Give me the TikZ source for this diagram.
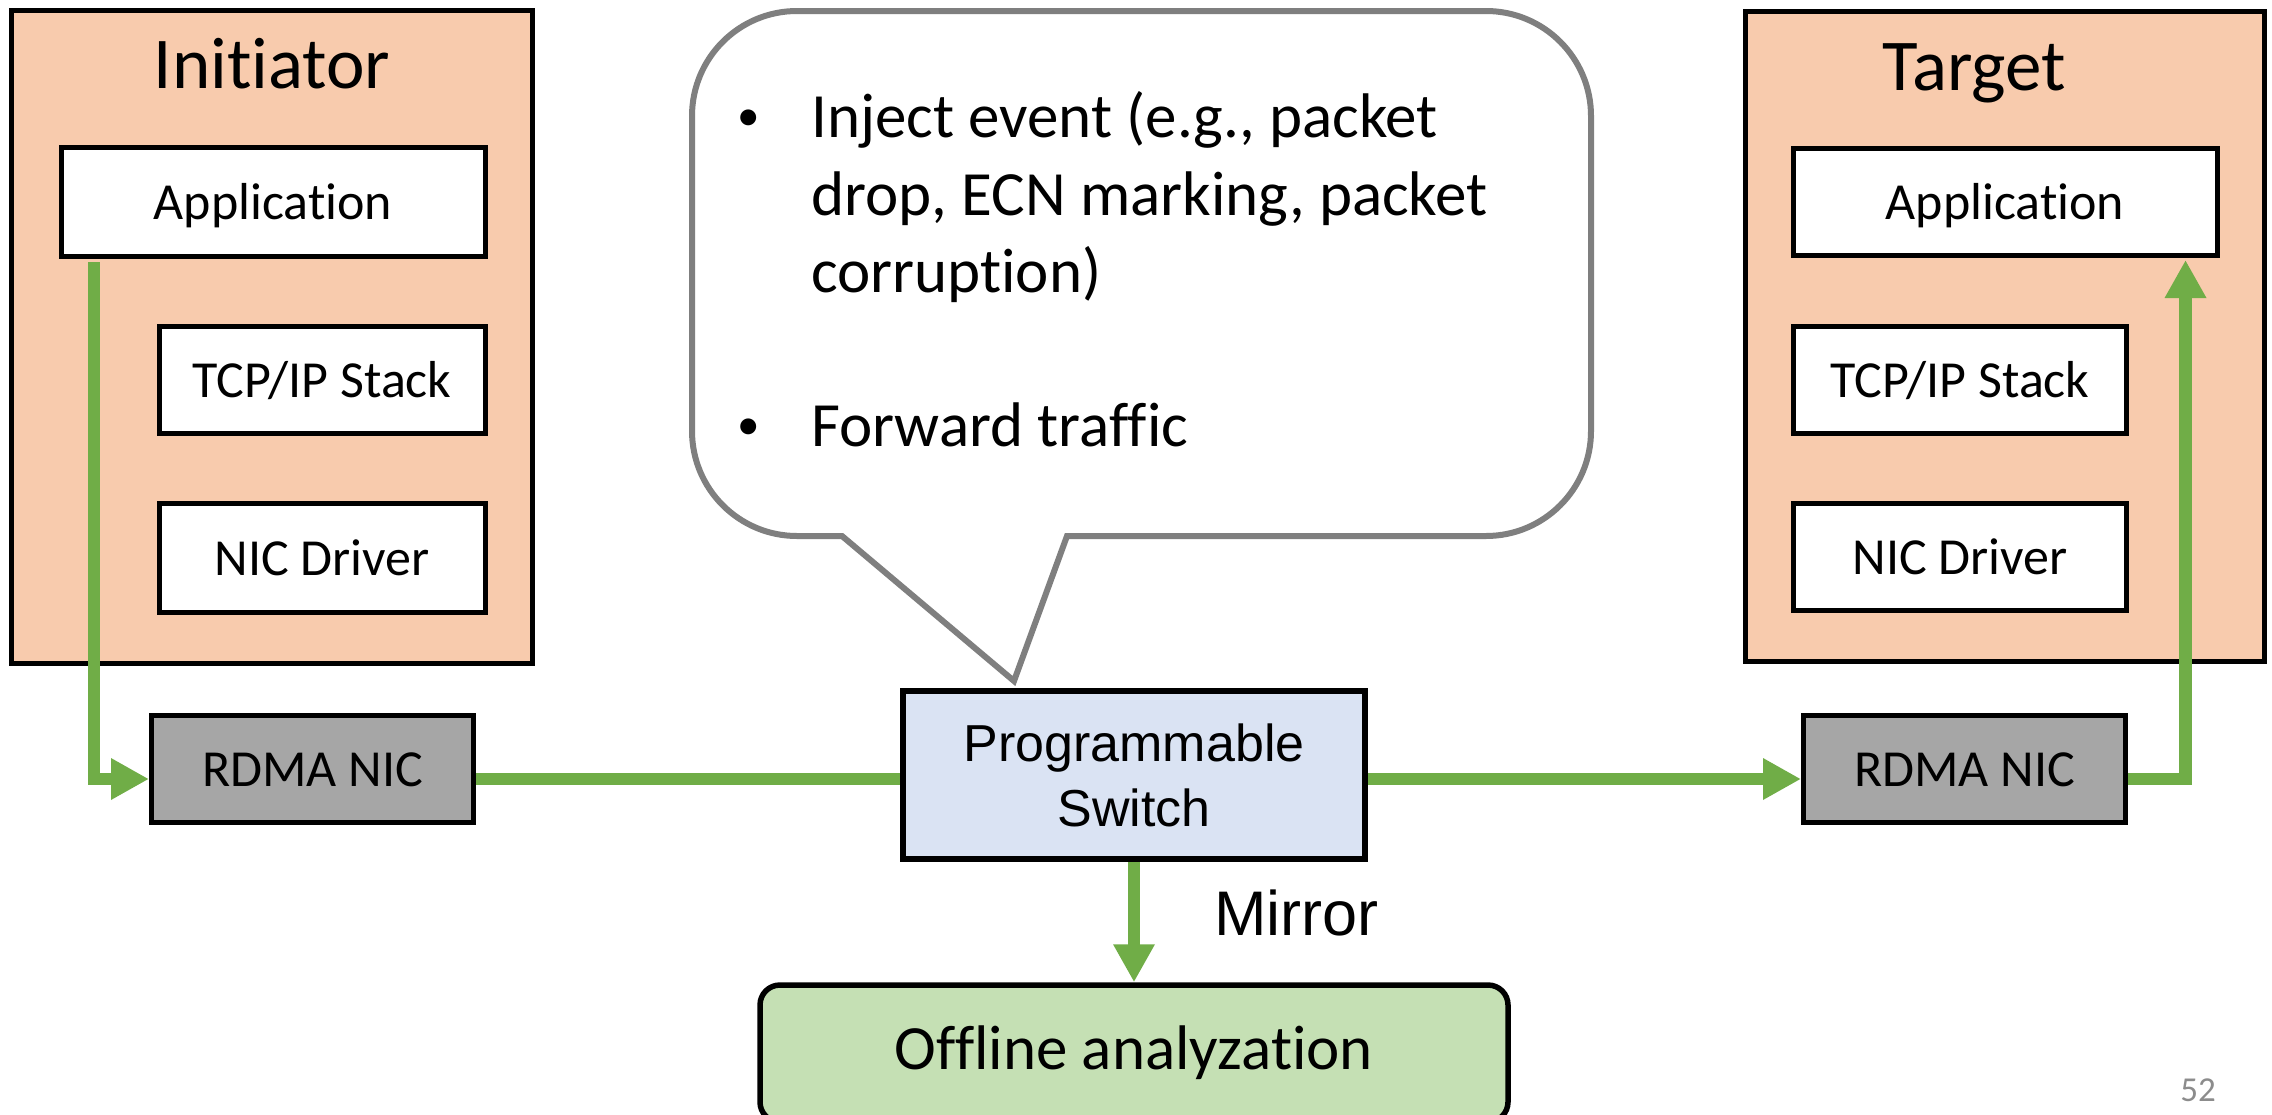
\documentclass[tikz,border=0pt]{standalone}
\usepackage{fontspec}
\setmainfont{Carlito}[Ligatures=NoCommon]
\newfontfamily\helv{Liberation Sans}
\usetikzlibrary{arrows.meta,calc}

\definecolor{hostfill}{HTML}{F8CBAD}
\definecolor{nicfill}{HTML}{A6A6A6}
\definecolor{switchfill}{HTML}{DAE3F3}
\definecolor{flowgreen}{HTML}{70AD47}
\definecolor{offfill}{HTML}{C5E0B4}
\definecolor{bubbleline}{HTML}{7F7F7F}
\definecolor{pagenum}{HTML}{8C8C8C}

\begin{document}
\begin{tikzpicture}[x=1pt,y=-1pt,
  host/.style={draw=black,line width=5pt,fill=hostfill,inner sep=0pt},
  hosttitle/.style={anchor=base,inner sep=0pt,font=\fontsize{73}{88}\selectfont},
  layerbox/.style={draw=black,line width=5pt,fill=white,inner sep=0pt,
    font=\fontsize{52}{62}\selectfont,text height=36pt,text depth=2pt},
  nicbox/.style={layerbox,fill=nicfill},
  switchbox/.style={draw=black,line width=6pt,fill=switchfill,inner sep=0pt,
    align=center,font=\helv\fontsize{52}{65}\selectfont},
  offbox/.style={draw=black,line width=5.5pt,fill=offfill,rounded corners=20pt,
    inner sep=0pt,font=\fontsize{63}{75}\selectfont,text height=45pt,text depth=14pt},
  bubble/.style={draw=bubbleline,line width=6pt,fill=white,line join=miter},
  bubbletext/.style={anchor=base west,inner sep=0pt,font=\fontsize{63}{76}\selectfont},
  bulletmark/.style={anchor=center,inner sep=0pt,font=\fontsize{45}{54}\selectfont},
  flow/.style={draw=flowgreen,line width=12.5pt},
  flowarrow/.style={flow,-{Triangle[width=39pt,length=38pt]}}
]
\useasboundingbox (0,0) rectangle (2272,1114);

% ---- Initiator host ----
\node[host,minimum width=521pt,minimum height=653pt] (init) at (272,337) {};
\node[hosttitle] (initT) at (272,88) {Initiator};
\node[layerbox,minimum width=424pt,minimum height=109pt] (app1) at (273,202) {Application};
\node[layerbox,minimum width=326pt,minimum height=107pt] (tcp1) at (322,380) {TCP/IP Stack};
\node[layerbox,minimum width=326pt,minimum height=109pt] (drv1) at (322,558) {NIC Driver};

% ---- Target host ----
\node[host,minimum width=519pt,minimum height=650pt] (targ) at (2005,336) {};
\node[hosttitle] (targT) at (1974,90) {Target};
\node[layerbox,minimum width=424pt,minimum height=107pt] (app2) at (2005,202) {Application};
\node[layerbox,minimum width=333pt,minimum height=107pt] (tcp2) at (1960,380) {TCP/IP Stack};
\node[layerbox,minimum width=333pt,minimum height=107pt] (drv2) at (1960,557) {NIC Driver};

% ---- NICs, switch and analysis box ----
\node[nicbox,minimum width=322pt,minimum height=107pt] (nicL) at (312.5,769) {RDMA NIC};
\node[nicbox,minimum width=322pt,minimum height=107pt] (nicR) at (1964.5,769) {RDMA NIC};
\node[switchbox,minimum width=462pt,minimum height=168pt] (sw) at (1134,775) {Programmable\\Switch};
\node[offbox,minimum width=748pt,minimum height=137pt] (off) at (1134,1053.5) {Offline analyzation};

% ---- speech bubble above the switch ----
\draw[bubble] (1067,536) -- (1486,536) arc (90:0:105) -- (1591,116) arc (0:-90:105)
  -- (797,11) arc (-90:-180:105) -- (692,431) arc (180:90:105) -- (842,536)
  -- (1014,681) -- cycle;
\node[bulletmark] (dot1) at (749,120) {•};
\node[bubbletext] (ln1) at (811,137) {Inject event (e.g., packet};
\node[bubbletext] (ln2) at (811,215) {drop, ECN marking, packet};
\node[bubbletext] (ln3) at (811,292) {corruption)};
\node[bulletmark] (dot2) at (749,429) {•};
\node[bubbletext] (ln4) at (811,446) {Forward traffic};

% ---- traffic path ----
\coordinate (lvl) at (0,779);
\coordinate (lx) at (94,0);
\coordinate (rx) at (2185.5,0);
\draw[flowarrow,shorten <=3pt] (app1.south -| lx) |- (nicL.west |- lvl);
\draw[flow] (nicL.east |- lvl) -- (sw.west |- lvl);
\draw[flowarrow] (sw.east |- lvl) -- (nicR.west |- lvl);
\draw[flowarrow,shorten >=2pt] (nicR.east |- lvl) -| (app2.south -| rx);
\draw[flowarrow] (sw.south) -- (off.north);
\node[anchor=base west,inner sep=0pt,font=\helv\fontsize{63}{75}\selectfont] (mir) at (1214,935) {Mirror};

% ---- page number ----
\node[anchor=base,inner sep=0pt,text=pagenum,font=\fontsize{35}{42}\selectfont] (pg) at (2198,1101) {52};
\end{tikzpicture}
\end{document}
